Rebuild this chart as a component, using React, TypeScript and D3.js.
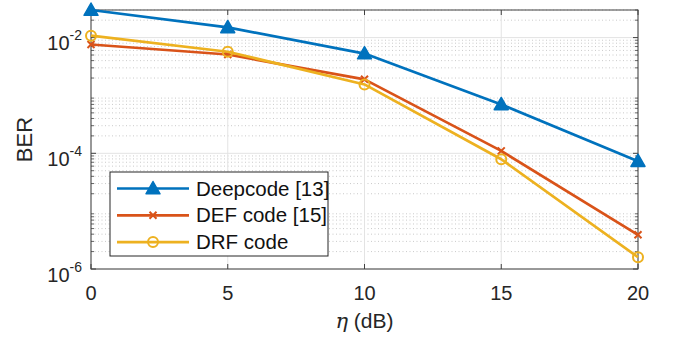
import React from 'react';
import * as d3 from 'd3';

const snr = [0, 5, 10, 15, 20];
const deepcode = [3.0e-2, 1.5e-2, 5.3e-3, 7.0e-4, 7.3e-5];
const defCode = [7.6e-3, 5.1e-3, 1.9e-3, 1.1e-4, 3.9e-6];
const drfCode = [1.08e-2, 5.7e-3, 1.55e-3, 7.9e-5, 1.6e-6];
const xTicks = [0, 5, 10, 15, 20];
const yTickExps = [-6, -4, -2];

const series = [
  { name: 'Deepcode [13]', values: deepcode, color: '#0072BD', marker: 'triangle' },
  { name: 'DEF code [15]', values: defCode, color: '#D95319', marker: 'x' },
  { name: 'DRF code', values: drfCode, color: '#EDB120', marker: 'circle' },
];

const W = 673;
const H = 343;
const margin = { top: 10, right: 35, bottom: 74, left: 91 };
const font = 'Liberation Sans, Arial, Helvetica, sans-serif';

function Marker({ type, x, y, color }: { type: string; x: number; y: number; color: string }) {
  if (type === 'triangle') {
    const s = 7;
    return (
      <path
        d={`M${x},${y - s} L${x + s},${y + s * 0.75} L${x - s},${y + s * 0.75} Z`}
        fill={color}
        stroke={color}
        strokeWidth={1.5}
        strokeLinejoin="round"
      />
    );
  }
  if (type === 'x') {
    const s = 3.5;
    return (
      <path
        d={`M${x - s},${y - s} L${x + s},${y + s} M${x - s},${y + s} L${x + s},${y - s}`}
        stroke={color}
        strokeWidth={2}
      />
    );
  }
  return <circle cx={x} cy={y} r={5} fill="none" stroke={color} strokeWidth={2} />;
}

export default function App() {
  const iw = W - margin.left - margin.right;
  const ih = H - margin.top - margin.bottom;
  const x = d3.scaleLinear().domain([0, 20]).range([0, iw]);
  const y = d3.scaleLog().domain([1e-6, 3e-2]).range([ih, 0]);

  // minor ticks 2..9 per decade
  const minor: number[] = [];
  for (let e = -6; e <= -2; e++) {
    for (let m = 2; m <= 9; m++) {
      const v = m * Math.pow(10, e);
      if (v <= 3e-2) minor.push(v);
    }
  }
  const line = d3
    .line<number>()
    .x((_, i) => x(snr[i]))
    .y(d => y(d));

  return (
    <svg width={W} height={H} style={{ position: 'absolute', left: 0, top: 0, background: '#fff' }} fontFamily={font}>
      <g transform={`translate(${margin.left},${margin.top})`}>
        {/* minor grid */}
        {minor.map(v => (
          <line key={'m' + v} x1={0} x2={iw} y1={y(v)} y2={y(v)} stroke="#bdbdbd" strokeWidth={0.8} strokeDasharray="1,2.5" />
        ))}
        {/* major grid */}
        {xTicks.map(t => (
          <line key={'gx' + t} x1={x(t)} x2={x(t)} y1={0} y2={ih} stroke="#e3e3e3" strokeWidth={1} />
        ))}
        {yTickExps.map(e => (
          <line key={'gy' + e} x1={0} x2={iw} y1={y(Math.pow(10, e))} y2={y(Math.pow(10, e))} stroke="#e3e3e3" strokeWidth={1} />
        ))}
        {/* ticks */}
        {xTicks.map(t => (
          <g key={'tx' + t}>
            <line x1={x(t)} x2={x(t)} y1={ih} y2={ih - 5} stroke="#404040" />
            <line x1={x(t)} x2={x(t)} y1={0} y2={5} stroke="#404040" />
            <text x={x(t)} y={ih + 31} textAnchor="middle" fontSize={20} fill="#262626">
              {t}
            </text>
          </g>
        ))}
        {minor.map(v => (
          <g key={'mt' + v}>
            <line x1={0} x2={3} y1={y(v)} y2={y(v)} stroke="#404040" strokeWidth={0.8} />
            <line x1={iw} x2={iw - 3} y1={y(v)} y2={y(v)} stroke="#404040" strokeWidth={0.8} />
          </g>
        ))}
        {yTickExps.map(e => (
          <g key={'ty' + e}>
            <line x1={0} x2={5} y1={y(Math.pow(10, e))} y2={y(Math.pow(10, e))} stroke="#404040" />
            <line x1={iw} x2={iw - 5} y1={y(Math.pow(10, e))} y2={y(Math.pow(10, e))} stroke="#404040" />
            <text x={-9} y={y(Math.pow(10, e)) + 12.5} textAnchor="end" fontSize={20} fill="#262626">
              10
              <tspan dy={-10} fontSize={14}>
                {e}
              </tspan>
            </text>
          </g>
        ))}
        {/* box */}
        <rect x={0} y={0} width={iw} height={ih} fill="none" stroke="#404040" strokeWidth={1} />
        {/* series */}
        {series.map(s => (
          <g key={s.name}>
            <path d={line(s.values) || ''} fill="none" stroke={s.color} strokeWidth={2.7} strokeLinejoin="round" />
            {s.values.map((v, i) => (
              <Marker key={i} type={s.marker} x={x(snr[i])} y={y(v)} color={s.color} />
            ))}
          </g>
        ))}
        {/* legend */}
        <g transform="translate(19,162)">
          <rect x={0} y={0} width={218} height={84} fill="#fff" stroke="#262626" strokeWidth={1} />
          {series.map((s, i) => (
            <g key={'lg' + s.name} transform={`translate(0,${16.5 + i * 26.8})`}>
              <line x1={7} x2={79} y1={0} y2={0} stroke={s.color} strokeWidth={2.7} />
              <Marker type={s.marker} x={43} y={0} color={s.color} />
              <text x={86} y={7} fontSize={20.5} fill="#111">
                {s.name}
              </text>
            </g>
          ))}
        </g>
        {/* axis labels */}
        <text x={iw / 2} y={ih + 59} textAnchor="middle" fontSize={21} fill="#262626">
          <tspan fontStyle="italic" fontFamily="DejaVu Serif, serif">η</tspan> (dB)
        </text>
        <text transform={`translate(-59,${ih / 2}) rotate(-90)`} textAnchor="middle" fontSize={22} fill="#262626">
          BER
        </text>
      </g>
    </svg>
  );
}
